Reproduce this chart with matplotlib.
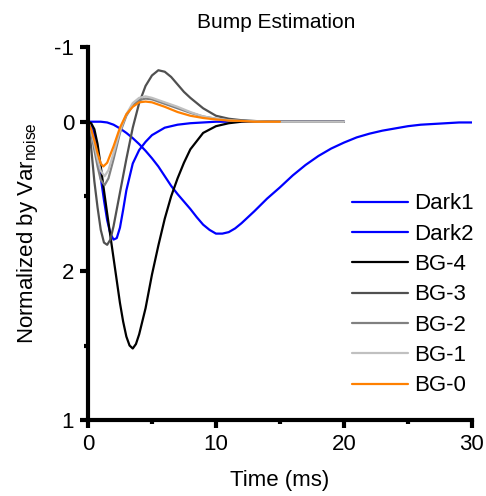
import matplotlib
matplotlib.use("Agg")
import matplotlib.pyplot as plt

plt.rcParams['font.family'] = ['Liberation Sans', 'DejaVu Sans']
plt.rcParams['mathtext.fontset'] = 'custom'
plt.rcParams['mathtext.rm'] = 'Liberation Sans'

# ---- data (time in ms, bump amplitude; axis inverted) ----
dark1_t = [0, 1, 1.5, 2, 2.5, 3, 3.5, 4, 4.5, 5, 5.5, 6, 6.5, 7, 7.5, 8, 8.5, 9, 9.5, 10,
           10.5, 11, 11.5, 12, 13, 14, 15, 16, 17, 18, 19, 20, 21, 22, 23, 24, 25, 26, 27, 28, 29, 30]
dark1_y = [0, 0, 0.01, 0.04, 0.09, 0.15, 0.22, 0.3, 0.39, 0.49, 0.6, 0.73, 0.86, 0.97, 1.07, 1.17,
           1.28, 1.38, 1.45, 1.5, 1.5, 1.48, 1.43, 1.36, 1.2, 1.03, 0.88, 0.72, 0.58, 0.46, 0.36,
           0.28, 0.21, 0.16, 0.12, 0.09, 0.06, 0.04, 0.03, 0.02, 0.01, 0.01]

dark2_t = [0, 0.25, 0.5, 0.75, 1.0, 1.25, 1.5, 1.75, 2.0, 2.25, 2.5, 2.75, 3.0, 3.5, 4.0, 4.5,
           5, 6, 7, 8, 9, 10, 20]
dark2_y = [0, 0.04, 0.18, 0.45, 0.75, 1.05, 1.32, 1.5, 1.58, 1.56, 1.42, 1.18, 0.92, 0.56, 0.38, 0.27,
           0.18, 0.08, 0.04, 0.02, 0.01, 0, 0]

bg4_t = [0, 0.25, 0.5, 0.75, 1.0, 1.25, 1.5, 1.75, 2.0, 2.25, 2.5, 2.75, 3.0, 3.25, 3.5, 3.75,
         4.0, 4.5, 5.0, 5.5, 6.0, 6.5, 7.0, 7.5, 8.0, 9, 10, 11, 12, 20]
bg4_y = [0, 0.02, 0.1, 0.3, 0.6, 0.92, 1.23, 1.53, 1.83, 2.13, 2.43, 2.68, 2.88, 3.0, 3.04, 2.98,
         2.85, 2.5, 2.05, 1.66, 1.3, 1.0, 0.76, 0.55, 0.37, 0.15, 0.06, 0.02, 0, 0]

bg3_t = [0, 0.25, 0.5, 0.75, 1.0, 1.25, 1.5, 1.75, 2.0, 2.5, 3.0, 3.5, 4.0, 4.5, 5.0, 5.5, 6.0,
         6.5, 7.0, 7.5, 8.0, 9, 10, 11, 12, 13, 14, 20]
bg3_y = [0, 0.35, 0.8, 1.15, 1.45, 1.62, 1.65, 1.58, 1.4, 0.95, 0.5, 0.08, -0.25, -0.48, -0.62,
         -0.69, -0.67, -0.6, -0.5, -0.4, -0.32, -0.18, -0.08, -0.04, -0.02, -0.01, 0, 0]

bg2_t = [0, 0.25, 0.5, 0.75, 1.0, 1.3, 1.6, 2.0, 2.5, 3.0, 3.5, 4.0, 4.5, 5, 6, 7, 8, 9, 10,
         11, 12, 14, 20]
bg2_y = [0, 0.15, 0.38, 0.6, 0.78, 0.85, 0.76, 0.5, 0.15, -0.08, -0.22, -0.29, -0.31, -0.3,
         -0.24, -0.18, -0.12, -0.07, -0.04, -0.02, -0.01, 0, 0]

bg1_t = [0, 0.25, 0.5, 0.75, 1.0, 1.3, 1.6, 2.0, 2.5, 3.0, 3.5, 4.0, 4.5, 5, 6, 7, 8, 9, 10,
         11, 12, 14, 20]
bg1_y = [0, 0.12, 0.3, 0.5, 0.66, 0.73, 0.65, 0.42, 0.12, -0.1, -0.25, -0.32, -0.34, -0.32,
         -0.26, -0.2, -0.13, -0.07, -0.04, -0.02, -0.01, 0, 0]

bg0_t = [0, 0.25, 0.5, 0.75, 1.0, 1.2, 1.5, 2.0, 2.5, 3.0, 3.5, 4.0, 4.5, 5, 6, 7, 8, 9, 10,
         11, 12, 13, 15]
bg0_y = [0, 0.1, 0.25, 0.42, 0.56, 0.6, 0.55, 0.33, 0.08, -0.1, -0.2, -0.26, -0.27, -0.26,
         -0.2, -0.13, -0.08, -0.05, -0.03, -0.015, -0.01, 0, 0]

series = [
    ("Dark1", dark1_t, dark1_y, "#0000ff"),
    ("Dark2", dark2_t, dark2_y, "#0000ff"),
    ("BG-4", bg4_t, bg4_y, "#000000"),
    ("BG-3", bg3_t, bg3_y, "#505050"),
    ("BG-2", bg2_t, bg2_y, "#808080"),
    ("BG-1", bg1_t, bg1_y, "#c0c0c0"),
    ("BG-0", bg0_t, bg0_y, "#ff8000"),
]

y_major = [-1, 0, 2, 4]
y_major_labels = ["-1", "0", "2", "1"]
y_minor = [1, 3]
x_major = [0, 10, 20, 30]
x_minor = [5, 15, 25]

fig = plt.figure(figsize=(4.86, 4.96), dpi=100)
ax = fig.add_axes([0.181, 0.153, 0.79, 0.752])

for name, t, y, c in series:
    ax.plot(t, y, color=c, lw=1.6, label=name, solid_capstyle='round')

ax.set_xlim(0, 30)
ax.set_ylim(4, -1)

for s in ['top', 'right']:
    ax.spines[s].set_visible(False)
for s in ['left', 'bottom']:
    ax.spines[s].set_linewidth(3)

ax.set_xticks(x_major)
ax.set_xticks(x_minor, minor=True)
ax.set_yticks(y_major)
ax.set_yticklabels(y_major_labels)
ax.set_yticks(y_minor, minor=True)
ax.tick_params(which='major', length=6, width=3, labelsize=16, pad=4)
ax.tick_params(which='minor', length=3, width=3)

ax.set_xlabel("Time (ms)", fontsize=16)
ax.xaxis.set_label_coords(0.5, -0.135)
ax.set_ylabel("Normalized by Var$_{\\mathregular{noise}}$", fontsize=16)
ax.yaxis.set_label_coords(-0.125, 0.5)
fig.text(276 / 486, 1 - 22 / 496, "Bump Estimation", ha='center', va='center', fontsize=15)

ax.legend(loc='upper left', bbox_to_anchor=(0.688, 0.608), frameon=False, fontsize=16,
          handlelength=2.5, handletextpad=0.3, labelspacing=0.42, borderaxespad=0,
          borderpad=0)

fig.savefig("out.png", dpi=100)
